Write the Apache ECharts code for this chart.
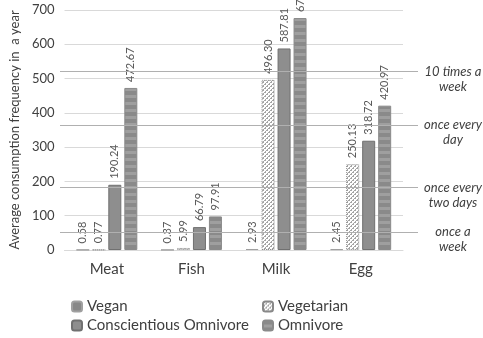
<!DOCTYPE html>
<html>
<head>
<meta charset="utf-8">
<script src="https://cdn.jsdelivr.net/npm/echarts@6/dist/echarts.min.js"></script>
<style>
  html, body { margin: 0; padding: 0; background: #fff; }
  #chart { width: 483px; height: 338px; }
</style>
</head>
<body>
<div id="chart"></div>
<script>
// Food groups and average yearly consumption frequency per diet group
const categories = ['Meat', 'Fish', 'Milk', 'Egg'];
const vegan = [0.58, 0.37, 2.93, 2.45];
const vegetarian = [0.77, 5.99, 496.30, 250.13];
const conscientious = [190.24, 66.79, 587.81, 318.72];
const omnivore = [472.67, 97.91, 676.53, 420.97];

// Reference frequencies shown as horizontal lines
const refValues = [52, 182.5, 365, 520];
const refLabels = ['once a\nweek', 'once every\ntwo days', 'once every\nday', '10 times a\nweek'];

const yMin = 0, yMax = 700, yStep = 100;

const FONT = 'Lato';

// Small canvas fills for the patterned bars
function makePattern(w, h, draw) {
  const c = document.createElement('canvas');
  c.width = w; c.height = h;
  const ctx = c.getContext('2d');
  draw(ctx);
  return { image: c, repeat: 'repeat' };
}
const hatchFill = makePattern(4, 4, ctx => {
  ctx.fillStyle = '#ffffff';
  ctx.fillRect(0, 0, 4, 4);
  ctx.fillStyle = '#a4a4a4';
  for (let y = 0; y < 4; y++) {
    for (let x = 0; x < 4; x++) {
      if ((x + y) % 4 === 0 || (x + y) % 4 === 1 && y % 2 === 0) ctx.fillRect(x, y, 1, 1);
    }
  }
});
const bandFill = makePattern(4, 7, ctx => {
  ctx.fillStyle = '#8a8a8a';
  ctx.fillRect(0, 0, 4, 4);
  ctx.fillStyle = '#9f9f9f';
  ctx.fillRect(0, 4, 4, 3);
});

const valueLabel = {
  show: true,
  position: 'top',
  rotate: 90,
  align: 'left',
  verticalAlign: 'middle',
  distance: 6,
  fontFamily: FONT,
  fontSize: 11,
  color: '#595959',
  formatter: p => p.value.toFixed(2)
};

function barSeries(name, data, itemStyle) {
  return {
    name, type: 'bar', data,
    barWidth: 13, barGap: '23%',
    itemStyle,
    label: valueLabel,
    emphasis: { disabled: true }
  };
}

// One legend entry per block so the two columns line up
function legendItem(name, left, top) {
  return {
    data: [name], left, top,
    itemWidth: 10, itemHeight: 10, itemGap: 0,
    padding: 0,
    selectedMode: false,
    textStyle: { fontFamily: FONT, fontSize: 15, color: '#404040', padding: [0, 0, 0, 0] }
  };
}

const chart = echarts.init(document.getElementById('chart'), null, { renderer: 'canvas' });
chart.setOption({
  animation: false,
  textStyle: { fontFamily: FONT },
  grid: [
    { left: 58, right: 80, top: 10, bottom: 88 },
    { left: 60, right: 65, top: 10, bottom: 88 }
  ],
  legend: [
    legendItem('Vegan', 71, 299),
    legendItem('Conscientious Omnivore', 71, 318),
    legendItem('Vegetarian', 262, 299),
    legendItem('Omnivore', 262, 318)
  ],
  xAxis: [
    {
      type: 'category', data: categories, gridIndex: 0,
      axisLine: { lineStyle: { color: '#d9d9d9' } },
      axisTick: { show: false },
      axisLabel: { fontFamily: FONT, fontSize: 15, color: '#404040', margin: 12 }
    },
    { type: 'value', gridIndex: 1, min: 0, max: 1, show: false }
  ],
  yAxis: [
    {
      type: 'value', gridIndex: 0, min: yMin, max: yMax, interval: yStep,
      name: 'Average consumption frequency in  a year',
      nameLocation: 'middle', nameGap: 41,
      nameTextStyle: { fontFamily: FONT, fontSize: 13, color: '#404040' },
      axisLine: { show: false },
      axisTick: { show: false },
      axisLabel: { fontFamily: FONT, fontSize: 13, color: '#404040', margin: 10 },
      splitLine: { lineStyle: { color: '#d9d9d9' } }
    },
    { type: 'value', gridIndex: 1, min: yMin, max: yMax, show: false }
  ],
  series: [
    barSeries('Vegan', vegan, { color: '#888888', borderColor: '#a0a0a0', borderWidth: 1 }),
    barSeries('Vegetarian', vegetarian, { color: hatchFill, borderColor: '#888888', borderWidth: 1, borderType: 'dotted' }),
    barSeries('Conscientious Omnivore', conscientious, { color: '#8e8e8e', borderColor: '#707070', borderWidth: 1 }),
    barSeries('Omnivore', omnivore, { color: bandFill, borderColor: '#8a8a8a', borderWidth: 1 }),
    {
      type: 'line', xAxisIndex: 1, yAxisIndex: 1,
      data: [[0, 0]], symbol: 'none', lineStyle: { opacity: 0 },
      silent: true,
      markLine: {
        silent: true,
        symbol: ['none', 'none'],
        lineStyle: { color: '#b0b0b0', type: 'solid', width: 1 },
        label: {
          position: 'end',
          distance: 35,
          align: 'center',
          verticalAlign: 'middle',
          lineHeight: 15,
          fontFamily: FONT,
          fontStyle: 'italic',
          fontSize: 13,
          color: '#404040',
          // leading blank line keeps the first text line level with the rule
          formatter: p => '\n' + p.name
        },
        data: refValues.map((v, i) => ({ yAxis: v, name: refLabels[i] }))
      }
    }
  ]
});
</script>
</body>
</html>
